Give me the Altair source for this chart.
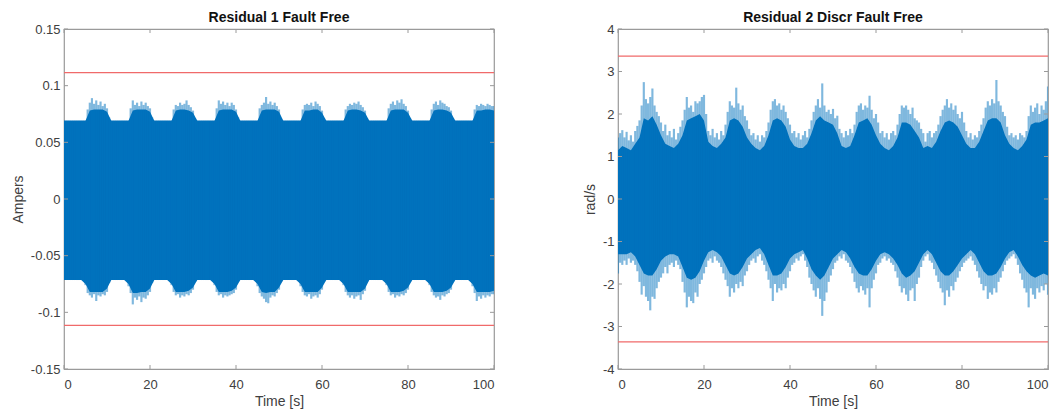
import altair as alt
import pandas as pd

BLUE = "#0072BD"
RED = "#F06A6A"
BOX = "#9A9A9A"
TXT = "#404040"
FONT = "Liberation Sans"

X_TICKS = [0, 20, 40, 60, 80, 100]
Y1_TICKS = [-0.15, -0.1, -0.05, 0, 0.05, 0.1, 0.15]
Y2_TICKS = [-4, -3, -2, -1, 0, 1, 2, 3, 4]
THR1 = 0.1115
THR2 = 3.36

# sampling grids (s)
T_FINE = [i * 0.5 for i in range(201)]
T_COARSE = list(range(101))

# ---- Residual 1: envelope ----
L_UP_PEAK = [
    0.0695, 0.0695, 0.0695, 0.0695, 0.0695, 0.0695, 0.0695, 0.0695, 0.0695, 0.0695, 0.0695, 0.079, 0.085, 0.089, 0.084, 0.087, 0.083, 0.086, 0.082, 0.084,
    0.080, 0.072, 0.0695, 0.0695, 0.0695, 0.0695, 0.0695, 0.0695, 0.0695, 0.0695, 0.0695, 0.080, 0.087, 0.083, 0.085, 0.082, 0.086, 0.083, 0.085, 0.082,
    0.080, 0.072, 0.0695, 0.0695, 0.0695, 0.0695, 0.0695, 0.0695, 0.0695, 0.0695, 0.0695, 0.079, 0.083, 0.082, 0.085, 0.083, 0.084, 0.087, 0.083, 0.081,
    0.078, 0.071, 0.0695, 0.0695, 0.0695, 0.0695, 0.0695, 0.0695, 0.0695, 0.0695, 0.0695, 0.080, 0.087, 0.084, 0.086, 0.083, 0.085, 0.082, 0.085, 0.083,
    0.079, 0.072, 0.0695, 0.0695, 0.0695, 0.0695, 0.0695, 0.0695, 0.0695, 0.0695, 0.0695, 0.080, 0.083, 0.085, 0.090, 0.084, 0.086, 0.083, 0.085, 0.082,
    0.079, 0.071, 0.0695, 0.0695, 0.0695, 0.0695, 0.0695, 0.0695, 0.0695, 0.0695, 0.0695, 0.079, 0.083, 0.084, 0.083, 0.085, 0.082, 0.086, 0.084, 0.082,
    0.078, 0.071, 0.0695, 0.0695, 0.0695, 0.0695, 0.0695, 0.0695, 0.0695, 0.0695, 0.0695, 0.079, 0.082, 0.084, 0.083, 0.085, 0.084, 0.086, 0.083, 0.081,
    0.078, 0.071, 0.0695, 0.0695, 0.0695, 0.0695, 0.0695, 0.0695, 0.0695, 0.0695, 0.0695, 0.080, 0.084, 0.086, 0.083, 0.087, 0.085, 0.088, 0.084, 0.082,
    0.078, 0.071, 0.0695, 0.0695, 0.0695, 0.0695, 0.0695, 0.0695, 0.0695, 0.0695, 0.0695, 0.079, 0.084, 0.086, 0.083, 0.087, 0.085, 0.084, 0.082, 0.081,
    0.078, 0.071, 0.0695, 0.0695, 0.0695, 0.0695, 0.0695, 0.0695, 0.0695, 0.0695, 0.0695, 0.079, 0.083, 0.082, 0.084, 0.083, 0.082, 0.084, 0.083, 0.082,
    0.082,
]
L_LO_PEAK = [
    -0.0715, -0.0715, -0.0715, -0.0715, -0.0715, -0.0715, -0.0715, -0.0715, -0.0715, -0.0715, -0.076, -0.083, -0.085, -0.087, -0.084, -0.090, -0.085, -0.086, -0.084, -0.085,
    -0.082, -0.074, -0.0715, -0.0715, -0.0715, -0.0715, -0.0715, -0.0715, -0.0715, -0.0715, -0.077, -0.083, -0.093, -0.087, -0.089, -0.086, -0.091, -0.087, -0.088, -0.085,
    -0.082, -0.074, -0.0715, -0.0715, -0.0715, -0.0715, -0.0715, -0.0715, -0.0715, -0.0715, -0.076, -0.082, -0.085, -0.084, -0.087, -0.085, -0.086, -0.084, -0.085, -0.083,
    -0.080, -0.073, -0.0715, -0.0715, -0.0715, -0.0715, -0.0715, -0.0715, -0.0715, -0.0715, -0.076, -0.082, -0.085, -0.084, -0.087, -0.085, -0.086, -0.085, -0.084, -0.083,
    -0.080, -0.073, -0.0715, -0.0715, -0.0715, -0.0715, -0.0715, -0.0715, -0.0715, -0.0715, -0.077, -0.083, -0.086, -0.088, -0.091, -0.092, -0.087, -0.085, -0.086, -0.083,
    -0.080, -0.073, -0.0715, -0.0715, -0.0715, -0.0715, -0.0715, -0.0715, -0.0715, -0.0715, -0.077, -0.082, -0.085, -0.086, -0.084, -0.088, -0.086, -0.085, -0.087, -0.084,
    -0.080, -0.073, -0.0715, -0.0715, -0.0715, -0.0715, -0.0715, -0.0715, -0.0715, -0.0715, -0.076, -0.082, -0.085, -0.087, -0.085, -0.088, -0.086, -0.085, -0.089, -0.084,
    -0.081, -0.073, -0.0715, -0.0715, -0.0715, -0.0715, -0.0715, -0.0715, -0.0715, -0.0715, -0.076, -0.082, -0.085, -0.084, -0.087, -0.085, -0.086, -0.084, -0.085, -0.083,
    -0.080, -0.073, -0.0715, -0.0715, -0.0715, -0.0715, -0.0715, -0.0715, -0.0715, -0.0715, -0.076, -0.082, -0.085, -0.087, -0.086, -0.089, -0.085, -0.086, -0.084, -0.083,
    -0.080, -0.073, -0.0715, -0.0715, -0.0715, -0.0715, -0.0715, -0.0715, -0.0715, -0.0715, -0.077, -0.083, -0.090, -0.086, -0.088, -0.085, -0.087, -0.085, -0.086, -0.084,
    -0.084,
]
L_UP_CORE = [
    0.069, 0.069, 0.069, 0.069, 0.069, 0.069, 0.078, 0.079, 0.079, 0.079,
    0.077, 0.069, 0.069, 0.069, 0.069, 0.069, 0.078, 0.079, 0.079, 0.079,
    0.077, 0.069, 0.069, 0.069, 0.069, 0.069, 0.078, 0.079, 0.079, 0.078,
    0.076, 0.069, 0.069, 0.069, 0.069, 0.069, 0.078, 0.079, 0.079, 0.079,
    0.077, 0.069, 0.069, 0.069, 0.069, 0.069, 0.078, 0.079, 0.079, 0.079,
    0.077, 0.069, 0.069, 0.069, 0.069, 0.069, 0.078, 0.078, 0.079, 0.079,
    0.076, 0.069, 0.069, 0.069, 0.069, 0.069, 0.078, 0.079, 0.079, 0.078,
    0.076, 0.069, 0.069, 0.069, 0.069, 0.069, 0.078, 0.079, 0.079, 0.079,
    0.076, 0.069, 0.069, 0.069, 0.069, 0.069, 0.078, 0.079, 0.079, 0.078,
    0.076, 0.069, 0.069, 0.069, 0.069, 0.069, 0.078, 0.078, 0.079, 0.079,
    0.078,
]
L_LO_CORE = [
    -0.0715, -0.0715, -0.0715, -0.0715, -0.0715, -0.075, -0.082, -0.082, -0.082, -0.082,
    -0.079, -0.0715, -0.0715, -0.0715, -0.0715, -0.075, -0.083, -0.083, -0.082, -0.082,
    -0.079, -0.0715, -0.0715, -0.0715, -0.0715, -0.075, -0.082, -0.082, -0.082, -0.081,
    -0.078, -0.0715, -0.0715, -0.0715, -0.0715, -0.075, -0.082, -0.082, -0.082, -0.081,
    -0.078, -0.0715, -0.0715, -0.0715, -0.0715, -0.075, -0.082, -0.083, -0.082, -0.082,
    -0.078, -0.0715, -0.0715, -0.0715, -0.0715, -0.075, -0.082, -0.082, -0.082, -0.082,
    -0.078, -0.0715, -0.0715, -0.0715, -0.0715, -0.075, -0.082, -0.082, -0.082, -0.082,
    -0.079, -0.0715, -0.0715, -0.0715, -0.0715, -0.075, -0.082, -0.082, -0.082, -0.081,
    -0.078, -0.0715, -0.0715, -0.0715, -0.0715, -0.075, -0.082, -0.082, -0.082, -0.081,
    -0.078, -0.0715, -0.0715, -0.0715, -0.0715, -0.075, -0.082, -0.082, -0.082, -0.082,
    -0.081,
]

# ---- Residual 2 Discr: envelope ----
R_UP_PEAK = [
    1.45, 1.55, 1.62, 1.45, 1.58, 1.38, 1.50, 1.35, 1.60, 1.72, 1.85, 2.20, 2.75, 2.35, 2.25, 2.40, 2.60, 2.20, 2.05, 1.95,
    1.80, 1.60, 1.75, 1.50, 1.60, 1.45, 1.65, 1.40, 1.55, 1.70, 1.85, 2.10, 2.40, 2.15, 2.20, 2.05, 2.30, 2.25, 2.30, 2.40,
    2.45, 2.00, 1.60, 1.50, 1.65, 1.45, 1.55, 1.40, 1.60, 1.50, 1.75, 2.05, 2.30, 2.20, 2.15, 2.62, 2.25, 2.10, 2.20, 1.95,
    1.85, 1.65, 1.50, 1.55, 1.40, 1.50, 1.35, 1.50, 1.45, 1.60, 1.80, 2.10, 2.30, 2.35, 2.20, 2.25, 2.10, 2.20, 2.05, 1.90,
    1.75, 1.55, 1.60, 1.45, 1.55, 1.40, 1.50, 1.60, 1.45, 1.65, 1.85, 2.05, 2.20, 2.35, 2.15, 2.72, 2.20, 2.05, 2.10, 2.00,
    2.12, 1.90, 1.96, 1.65, 1.55, 1.45, 1.60, 1.50, 1.65, 1.55, 1.75, 2.05, 2.20, 2.25, 2.10, 2.20, 2.15, 2.43, 2.10, 1.90,
    2.00, 1.80, 1.55, 1.60, 1.45, 1.55, 1.40, 1.55, 1.60, 1.50, 1.75, 2.00, 2.20, 2.15, 2.20, 2.10, 2.00, 2.15, 1.90, 1.85,
    1.80, 1.65, 1.55, 1.35, 1.55, 1.60, 1.45, 1.55, 1.60, 1.75, 1.95, 2.10, 2.20, 2.35, 2.15, 2.25, 2.10, 2.20, 2.00, 1.90,
    2.05, 1.80, 1.60, 1.45, 1.55, 1.40, 1.50, 1.45, 1.60, 1.75, 1.90, 2.15, 2.30, 2.20, 2.35, 2.25, 2.80, 2.30, 2.20, 2.05,
    1.95, 1.70, 1.50, 1.55, 1.45, 1.50, 1.40, 1.55, 1.50, 1.45, 1.60, 1.95, 2.20, 2.05, 2.15, 2.25, 2.00, 2.20, 2.10, 2.30,
    2.65,
]
R_LO_PEAK = [
    -1.75, -1.50, -1.55, -1.45, -1.55, -1.40, -1.50, -1.45, -1.55, -1.70, -1.95, -2.25, -2.05, -2.30, -2.40, -2.62, -2.30, -2.35, -2.10, -1.95,
    -1.85, -1.75, -1.60, -1.75, -1.55, -1.50, -1.60, -1.45, -1.55, -1.65, -1.95, -2.20, -2.55, -2.30, -2.40, -2.45, -2.20, -2.30, -2.00, -1.90,
    -1.75, -1.60, -1.45, -1.40, -1.50, -1.35, -1.45, -1.50, -1.60, -1.75, -1.90, -2.05, -2.30, -2.10, -2.20, -2.00, -2.10, -1.95, -2.05, -1.80,
    -1.70, -1.55, -1.45, -1.40, -1.50, -1.35, -1.30, -1.45, -1.55, -1.70, -1.90, -2.10, -2.40, -2.00, -2.20, -2.10, -2.15, -2.00, -2.10, -1.85,
    -1.70, -1.55, -1.50, -1.40, -1.45, -1.35, -1.30, -1.45, -1.60, -1.85, -2.00, -2.15, -2.30, -2.10, -2.35, -2.75, -2.40, -2.20, -1.95, -1.80,
    -1.65, -1.50, -1.45, -1.35, -1.40, -1.30, -1.45, -1.50, -1.60, -1.75, -1.95, -2.10, -2.20, -2.05, -2.15, -2.25, -2.10, -2.55, -2.10, -1.90,
    -1.75, -1.55, -1.50, -1.40, -1.35, -1.45, -1.40, -1.50, -1.55, -1.70, -1.85, -2.05, -2.20, -2.10, -2.25, -2.40, -2.15, -2.10, -2.40, -2.00,
    -1.85, -1.60, -1.45, -1.35, -1.30, -1.45, -1.50, -1.65, -1.80, -1.95, -2.10, -2.20, -2.50, -2.15, -2.30, -2.05, -2.15, -1.95, -1.85, -1.70,
    -1.60, -1.50, -1.45, -1.40, -1.35, -1.45, -1.55, -1.70, -1.85, -2.00, -2.15, -2.05, -2.35, -2.20, -2.25, -2.10, -2.20, -1.95, -1.85, -1.70,
    -1.55, -1.45, -1.40, -1.35, -1.30, -1.40, -1.55, -1.75, -1.90, -2.10, -2.20, -2.55, -2.10, -2.25, -2.35, -2.10, -2.20, -2.05, -2.15, -2.00,
    -2.25,
]
R_UP_CORE = [
    1.15, 1.25, 1.20, 1.15, 1.30, 1.45, 1.90, 1.85, 1.95, 1.75,
    1.50, 1.30, 1.25, 1.20, 1.30, 1.50, 1.85, 1.90, 1.95, 2.00,
    1.85, 1.35, 1.25, 1.20, 1.30, 1.45, 1.85, 1.90, 1.85, 1.70,
    1.45, 1.30, 1.20, 1.15, 1.25, 1.50, 1.85, 1.90, 1.85, 1.70,
    1.40, 1.25, 1.20, 1.20, 1.30, 1.55, 1.85, 1.95, 1.85, 1.80,
    1.75, 1.55, 1.25, 1.20, 1.25, 1.50, 1.80, 1.85, 1.90, 1.75,
    1.50, 1.30, 1.20, 1.15, 1.25, 1.45, 1.80, 1.80, 1.75, 1.60,
    1.45, 1.20, 1.25, 1.20, 1.35, 1.60, 1.80, 1.85, 1.80, 1.70,
    1.50, 1.30, 1.20, 1.20, 1.35, 1.60, 1.85, 1.90, 1.90, 1.80,
    1.50, 1.30, 1.20, 1.15, 1.25, 1.40, 1.75, 1.80, 1.80, 1.85,
    1.90,
]
R_LO_CORE = [
    -1.30, -1.30, -1.30, -1.25, -1.35, -1.55, -1.75, -1.80, -1.80, -1.65,
    -1.45, -1.35, -1.30, -1.30, -1.35, -1.60, -1.85, -1.90, -1.85, -1.70,
    -1.45, -1.25, -1.20, -1.25, -1.35, -1.55, -1.75, -1.80, -1.75, -1.60,
    -1.40, -1.30, -1.20, -1.15, -1.30, -1.55, -1.80, -1.80, -1.75, -1.60,
    -1.40, -1.30, -1.25, -1.20, -1.40, -1.65, -1.80, -1.90, -1.80, -1.60,
    -1.40, -1.30, -1.20, -1.25, -1.40, -1.60, -1.75, -1.80, -1.80, -1.65,
    -1.45, -1.30, -1.25, -1.30, -1.40, -1.55, -1.75, -1.85, -1.80, -1.70,
    -1.50, -1.30, -1.20, -1.30, -1.50, -1.70, -1.80, -1.80, -1.70, -1.55,
    -1.40, -1.30, -1.20, -1.30, -1.50, -1.70, -1.80, -1.80, -1.75, -1.60,
    -1.40, -1.25, -1.20, -1.35, -1.55, -1.70, -1.80, -1.85, -1.80, -1.75,
    -1.80,
]

W, H = 430, 340


def panel(title, ytitle, ydom, yticks, thr, up_peak, lo_peak, up_core, lo_core):
    xs = alt.Scale(domain=[0, 100], nice=False, zero=False)
    ys = alt.Scale(domain=ydom, nice=False, zero=False)
    xaxis = alt.Axis(values=X_TICKS, title="Time [s]", labelExpr="datum.value + ''",
                     labelPadding=9, titlePadding=3)
    yaxis = alt.Axis(values=yticks, title=ytitle, labelExpr="datum.value + ''",
                     labelPadding=4, titlePadding=5)
    core = pd.DataFrame({"t": T_COARSE, "hi": up_core, "lo": lo_core})
    peak = pd.DataFrame({"t": T_FINE, "hi": up_peak, "lo": lo_peak})

    def X(field):
        return alt.X(field, type="quantitative", scale=xs, axis=xaxis)

    def Y(field):
        return alt.Y(field, type="quantitative", scale=ys, axis=yaxis)

    area = alt.Chart(core).mark_area(color=BLUE, opacity=1, clip=True).encode(
        x=X("t"), y=Y("hi"), y2="lo",
    )
    spikes = alt.Chart(peak).mark_rule(color=BLUE, opacity=0.5, strokeWidth=2.15, clip=True).encode(
        x=X("t"), y=Y("hi"), y2="lo",
    )
    thr_df = pd.DataFrame({"v": [thr, -thr]})
    thr_rule = alt.Chart(thr_df).mark_rule(color=RED, strokeWidth=1.2).encode(y=Y("v"))
    ytick_df = pd.DataFrame({"v": yticks})
    xtick_df = pd.DataFrame({"v": X_TICKS})
    ytl = alt.Chart(ytick_df).mark_rule(color=BOX, strokeWidth=1).encode(
        y=Y("v"), x=alt.value(0), x2=alt.value(4))
    ytr = alt.Chart(ytick_df).mark_rule(color=BOX, strokeWidth=1).encode(
        y=Y("v"), x=alt.value(W - 4), x2=alt.value(W))
    xtb = alt.Chart(xtick_df).mark_rule(color=BOX, strokeWidth=1).encode(
        x=X("v"), y=alt.value(H - 4), y2=alt.value(H))
    xtt = alt.Chart(xtick_df).mark_rule(color=BOX, strokeWidth=1).encode(
        x=X("v"), y=alt.value(0), y2=alt.value(4))

    return alt.layer(area, spikes, thr_rule, ytl, ytr, xtb, xtt).properties(
        width=W, height=H,
        title=alt.TitleParams(title, fontSize=14, fontWeight="bold", font=FONT, color="#111111",
                              offset=-2, anchor="middle", frame="group"),
    )


left = panel("Residual 1 Fault Free", "Ampers", [-0.15, 0.15], Y1_TICKS, THR1,
             L_UP_PEAK, L_LO_PEAK, L_UP_CORE, L_LO_CORE)
right = panel("Residual 2 Discr Fault Free", "rad/s", [-4, 4], Y2_TICKS, THR2,
              R_UP_PEAK, R_LO_PEAK, R_UP_CORE, R_LO_CORE)

chart = alt.hconcat(left, right, spacing=124, bounds="flush").properties(
    padding={"left": 10, "top": 10, "right": 10, "bottom": 2},
    background="white",
).configure_view(
    stroke=BOX, strokeWidth=1.2
).configure_axis(
    domain=False, ticks=False, grid=False,
    labelFont=FONT, labelFontSize=13, labelColor=TXT,
    titleFont=FONT, titleFontSize=14, titleFontWeight="normal", titleColor=TXT,
)

chart.save("out.html", embed_options={"renderer": "svg", "actions": False})
